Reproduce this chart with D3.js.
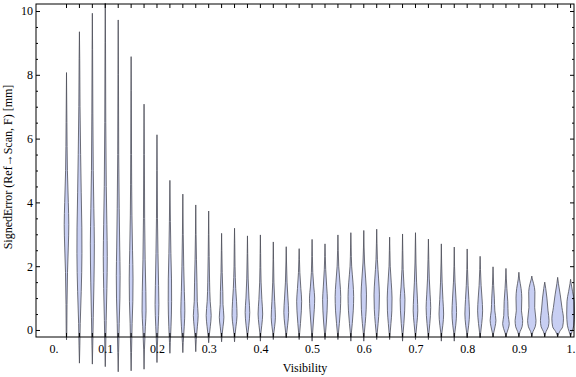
<!DOCTYPE html>
<html>
<head>
<meta charset="utf-8">
<script src="https://cdn.jsdelivr.net/npm/d3@7"></script>
<style>
body { margin: 0; background: #fff; }
text { font-family: "Liberation Serif", "Times New Roman", serif; }
</style>
</head>
<body>
<svg id="chart"></svg>
<script>
var width = 576, height = 377;

// visibility bins (one violin each)
var visibility = [0.025, 0.05, 0.075, 0.1, 0.125, 0.15, 0.175, 0.2, 0.225, 0.25,
                  0.275, 0.3, 0.325, 0.35, 0.375, 0.4, 0.425, 0.45, 0.475, 0.5,
                  0.525, 0.55, 0.575, 0.6, 0.625, 0.65, 0.675, 0.7, 0.725, 0.75,
                  0.775, 0.8, 0.825, 0.85, 0.875, 0.9, 0.925, 0.95, 0.975, 1.0];
// min / max signed error per bin [mm]
var errMin = [-0.31, -1.04, -1.07, -1.15, -1.31, -1.28, -1.23, -1.02, -0.73, -0.71,
              -0.68, -0.40, -0.37, -0.37, -0.30, -0.35, -0.30, -0.25, -0.30, -0.35,
              -0.30, -0.30, -0.35, -0.35, -0.30, -0.30, -0.35, -0.30, -0.30, -0.35,
              -0.35, -0.25, -0.25, -0.22, -0.22, -0.20, -0.20, -0.20, -0.20, -0.20];
var errMax = [8.07, 9.35, 9.93, 10.25, 9.72, 8.57, 7.08, 6.12, 4.69, 4.26,
              3.92, 3.73, 3.03, 3.19, 2.95, 2.98, 2.76, 2.61, 2.55, 2.84,
              2.70, 2.98, 3.05, 3.12, 3.16, 2.91, 3.01, 3.05, 2.85, 2.70,
              2.60, 2.54, 2.31, 1.98, 1.93, 1.81, 1.69, 1.50, 1.65, 1.59];
// density profile per bin: [error, relative density]
var profiles = [
  [[-0.1,0.3],[0.8,0.5],[1.8,1.0],[2.6,1.8],[3.3,2.3],[4.0,1.8],[5.0,0.9],[6.5,0.4]],
  [[-0.5,0.4],[0.2,0.8],[1.2,1.8],[2.4,2.5],[3.2,2.4],[4.3,1.8],[5.5,1.2],[7.0,0.6],[8.5,0.3]],
  [[-0.5,0.4],[0.4,0.9],[1.5,1.6],[2.7,2.0],[3.8,1.5],[5.0,0.9],[6.8,0.5],[8.8,0.25]],
  [[-0.6,0.4],[0.3,0.9],[1.3,1.6],[2.3,2.0],[3.3,1.6],[4.5,1.0],[6.5,0.5],[9.0,0.25]],
  [[-0.7,0.4],[0.2,1.0],[1.0,1.7],[1.7,1.9],[2.6,1.5],[3.8,1.0],[5.5,0.5],[8.0,0.25]],
  [[-0.7,0.4],[0.2,1.0],[0.9,1.7],[1.6,1.9],[2.5,1.4],[3.6,0.8],[5.5,0.4],[7.5,0.2]],
  [[-0.6,0.4],[0.1,1.3],[0.6,2.0],[1.2,1.8],[2.2,1.1],[3.5,0.6],[5.5,0.3]],
  [[-0.5,0.4],[0.1,1.2],[0.8,1.9],[1.4,1.6],[2.4,1.0],[3.5,0.5],[5.0,0.25]],
  [[-0.4,0.4],[0.1,1.1],[0.9,1.7],[1.6,1.6],[2.4,1.0],[3.4,0.5]],
  [[-0.4,0.4],[0.1,1.4],[0.6,2.0],[1.2,1.5],[2.0,0.9],[3.0,0.4]],
  [[-0.3,0.5],[0.1,1.6],[0.45,2.4],[0.9,1.5],[1.5,1.2],[2.2,0.7],[3.0,0.3]],
  [[-0.2,0.5],[0.1,1.6],[0.45,2.5],[0.9,1.5],[1.5,0.9],[2.3,0.5],[3.0,0.25]],
  [[-0.15,0.5],[0.1,1.4],[0.4,2.3],[0.8,1.4],[1.2,1.2],[1.8,0.6],[2.5,0.25]],
  [[-0.15,0.5],[0.1,1.4],[0.45,2.5],[0.9,2.0],[1.3,1.2],[2.0,0.5],[2.7,0.25]],
  [[-0.1,0.5],[0.15,1.4],[0.55,2.3],[1.0,1.5],[1.6,0.7],[2.4,0.25]],
  [[-0.1,0.5],[0.15,1.4],[0.5,2.3],[0.95,1.5],[1.5,0.7],[2.4,0.25]],
  [[-0.1,0.5],[0.1,1.3],[0.4,2.1],[0.9,1.4],[1.5,0.6],[2.2,0.25]],
  [[-0.1,0.5],[0.15,1.4],[0.55,2.4],[1.0,1.7],[1.5,0.8],[2.1,0.3]],
  [[-0.1,0.5],[0.2,1.3],[0.6,2.2],[0.9,2.5],[1.3,1.7],[1.8,0.7],[2.2,0.3]],
  [[-0.1,0.5],[0.25,1.3],[0.65,2.2],[1.0,2.6],[1.35,1.7],[1.8,0.7],[2.3,0.3]],
  [[-0.1,0.5],[0.25,1.4],[0.6,2.1],[0.95,2.4],[1.35,1.7],[1.9,0.7],[2.3,0.3]],
  [[-0.1,0.5],[0.2,1.4],[0.6,2.4],[1.05,2.8],[1.5,2.0],[2.0,0.8],[2.5,0.3]],
  [[-0.1,0.5],[0.2,1.4],[0.6,2.4],[1.05,2.8],[1.5,2.1],[2.0,0.8],[2.6,0.3]],
  [[-0.1,0.5],[0.2,1.4],[0.65,2.4],[1.1,2.7],[1.6,1.9],[2.1,0.8],[2.6,0.3]],
  [[-0.1,0.5],[0.2,1.4],[0.65,2.4],[1.1,2.7],[1.6,1.9],[2.2,0.7],[2.7,0.3]],
  [[-0.1,0.5],[0.2,1.3],[0.6,2.2],[1.0,2.4],[1.5,1.6],[2.0,0.6],[2.5,0.25]],
  [[-0.1,0.5],[0.2,1.3],[0.6,2.1],[0.95,2.4],[1.35,1.5],[1.9,0.6],[2.5,0.25]],
  [[-0.1,0.5],[0.2,1.4],[0.6,2.3],[1.0,1.9],[1.5,1.1],[2.1,0.5],[2.6,0.25]],
  [[-0.1,0.5],[0.2,1.4],[0.7,2.3],[1.1,1.7],[1.6,0.9],[2.2,0.4]],
  [[-0.1,0.5],[0.15,1.5],[0.5,2.3],[0.95,1.6],[1.5,0.8],[2.1,0.3]],
  [[-0.1,0.5],[0.15,1.5],[0.55,2.3],[1.0,1.7],[1.5,0.8],[2.0,0.3]],
  [[-0.1,0.5],[0.15,1.5],[0.5,2.3],[0.95,1.7],[1.4,0.9],[1.9,0.35]],
  [[-0.1,0.5],[0.2,1.6],[0.6,2.5],[1.0,1.9],[1.4,1.0],[1.9,0.35]],
  [[-0.1,0.6],[0.1,2.0],[0.3,2.9],[0.6,1.8],[1.0,1.3],[1.4,0.6]],
  [[-0.1,0.8],[0.05,2.4],[0.2,3.3],[0.45,2.2],[0.9,1.8],[1.3,0.9],[1.6,0.4]],
  [[-0.05,1.2],[0.1,3.2],[0.3,3.8],[0.6,2.6],[1.0,2.9],[1.3,2.2],[1.6,0.6]],
  [[-0.05,1.2],[0.1,3.4],[0.3,4.2],[0.7,2.9],[1.2,3.1],[1.45,1.8],[1.6,0.5]],
  [[-0.05,1.3],[0.1,3.6],[0.3,4.3],[0.6,3.3],[1.0,2.2],[1.3,1.0]],
  [[-0.05,2.0],[0.1,5.0],[0.35,5.8],[0.7,4.3],[1.1,2.6],[1.45,0.8]],
  [[-0.05,1.5],[0.15,3.2],[0.5,3.9],[0.9,3.6],[1.2,2.0],[1.45,0.6]]
];
var xTickVals = [0, 0.1, 0.2, 0.3, 0.4, 0.5, 0.6, 0.7, 0.8, 0.9, 1.0];
var xTickText = ["0.", "0.1", "0.2", "0.3", "0.4", "0.5", "0.6", "0.7", "0.8", "0.9", "1."];
var yMajor = [0, 2, 4, 6, 8, 10];
var yMinor = [0.5, 1, 1.5, 2.5, 3, 3.5, 4.5, 5, 5.5, 6.5, 7, 7.5, 8.5, 9, 9.5];

var plotLeft = 36, plotRight = 574, plotTop = 4, plotBottom = 337;

var svg = d3.select("#chart").attr("width", width).attr("height", height);

var x = d3.scaleLinear().domain([-0.034, 1.0066]).range([plotLeft, plotRight]);
var y = d3.scaleLinear().domain([-0.22, 10.22]).range([plotBottom, plotTop]);
var w = d3.scaleLinear().domain([0, 6]).range([0, 6]);

// violins
var violins = svg.append("g").attr("class", "violins");
visibility.forEach(function(v, i) {
        var cx = x(v);
        var pts = [[errMin[i], 0]].concat(profiles[i], [[errMax[i], 0]]);
        var area = d3.area()
                .curve(d3.curveMonotoneY)
                .y(d => y(d[0]))
                .x0(d => cx - w(d[1]))
                .x1(d => cx + w(d[1]));
        violins.append("path")
                .attr("d", area(pts))
                .attr("fill", "#c8cff3")
                .attr("stroke", "#4b4d57")
                .attr("stroke-width", 0.8)
                .attr("stroke-linejoin", "round");
});

// frame
svg.append("rect")
        .attr("x", plotLeft).attr("y", plotTop)
        .attr("width", plotRight - plotLeft).attr("height", plotBottom - plotTop)
        .attr("fill", "none").attr("stroke", "#000").attr("stroke-width", 1);

// violin position ticks on top and bottom
var ticks = svg.append("g").attr("stroke", "#000").attr("stroke-width", 1);
visibility.forEach(function(v) {
        ticks.append("line").attr("x1", x(v)).attr("x2", x(v)).attr("y1", plotTop).attr("y2", plotTop + 4);
        ticks.append("line").attr("x1", x(v)).attr("x2", x(v)).attr("y1", plotBottom).attr("y2", plotBottom - 4);
});

// x labels
var xAxis = d3.axisBottom(x).tickValues(xTickVals).tickSize(0).tickPadding(7)
        .tickFormat((d, i) => xTickText[i]);
var gx = svg.append("g").attr("transform", "translate(0," + plotBottom + ")").call(xAxis);
gx.select(".domain").remove();
gx.selectAll("text").attr("font-size", 12).attr("font-family", "Liberation Serif").attr("fill", "#000");

// y axes, ticks inside
function yAxisGroup(axis, tx, labels) {
        var g = svg.append("g").attr("transform", "translate(" + tx + ",0)").call(axis);
        g.select(".domain").remove();
        g.selectAll("line").attr("stroke", "#000");
        g.selectAll("text").attr("font-size", 12).attr("font-family", "Liberation Serif").attr("fill", "#000");
        if (!labels) g.selectAll("text").remove();
}
yAxisGroup(d3.axisLeft(y).tickValues(yMajor).tickSizeInner(-4).tickSizeOuter(0).tickPadding(3).tickFormat(d3.format("d")), plotLeft, true);
yAxisGroup(d3.axisLeft(y).tickValues(yMinor).tickSizeInner(-2).tickSizeOuter(0), plotLeft, false);
yAxisGroup(d3.axisRight(y).tickValues(yMajor).tickSizeInner(-4).tickSizeOuter(0), plotRight, false);
yAxisGroup(d3.axisRight(y).tickValues(yMinor).tickSizeInner(-2).tickSizeOuter(0), plotRight, false);

// titles
svg.append("text")
        .attr("x", (plotLeft + plotRight) / 2).attr("y", 372)
        .attr("text-anchor", "middle").attr("font-size", 12)
        .text("Visibility");
svg.append("text")
        .attr("transform", "translate(12,167) rotate(-90)")
        .attr("text-anchor", "middle").attr("font-size", 12)
        .text("SignedError (Ref\u2192Scan, F) [mm]");
</script>
</body>
</html>
